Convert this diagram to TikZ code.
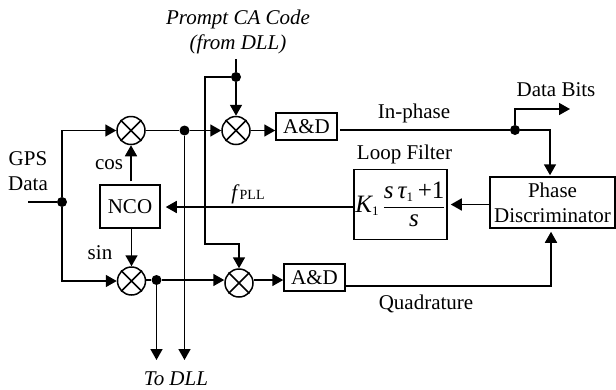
\documentclass[tikz,border=0pt]{standalone}
\usepackage{fontspec}
\setmainfont{Liberation Serif}
\usetikzlibrary{arrows.meta,calc}
\tikzstyle{wire}=[line width=1.7pt]
\tikzstyle{feed}=[wire,-{Triangle[length=11pt,width=12pt]}]
\tikzstyle{block}=[draw,line width=1.5pt,inner sep=0pt,align=center,font=\fontsize{21}{25}\selectfont]
\tikzstyle{mixer}=[draw,circle,line width=1.5pt,minimum size=28pt,inner sep=0pt]
\tikzstyle{joint}=[fill,circle,minimum size=10pt,inner sep=0pt]
\tikzstyle{caption}=[inner sep=0pt,align=center,font=\fontsize{21}{25}\selectfont]
\newcommand{\newmixer}[2]{
	\node[mixer] (#1) at (#2) {};
	\draw[line width=1.5pt] (#1.45) -- (#1.225) (#1.135) -- (#1.315);
}
\newcommand{\ital}[1]{\mbox{\fontsize{25}{25}\selectfont\itshape #1}}
\newcommand{\indx}{\mbox{\fontsize{13}{13}\selectfont 1}}
\begin{document}
\begin{tikzpicture}[x=1pt,y=-1pt]
	\useasboundingbox (0,0) rectangle (616,389);
	% mixers and blocks
	\newmixer{mixa}{131,130.5}
	\newmixer{mixb}{236,130.5}
	\newmixer{mixc}{131.5,281}
	\newmixer{mixd}{239,283}
	\node[block,minimum width=61pt,minimum height=27pt] (ada) at (306.5,126.5) {A\&D};
	\node[block,minimum width=61pt,minimum height=27pt] (adb) at (314.5,277.5) {A\&D};
	\node[block,minimum width=60pt,minimum height=43pt] (nco) at (130,206.5) {NCO};
	\node[block,minimum width=93pt,minimum height=70pt] (filter) at (400.5,204.5) {$\displaystyle \ital{K}_{\indx}\,\frac{\ital{s\,τ}_{\indx}\mbox{\fontsize{25}{25}\selectfont\,+1}}{\ital{s}}$};
	\node[block,minimum width=125pt,minimum height=51pt] (disc) at (552.5,202.5) {Phase\\Discriminator};
	% junctions and free ends
	\node[joint] (jgps) at (62,202) {};
	\node[joint] (jcode) at (236,77) {};
	\node[joint] (jdll) at (184.5,130.5) {};
	\node[joint] (jsin) at (156.5,280) {};
	\node[joint] (jbits) at (515,130) {};
	\coordinate (gpsin) at (28,202);
	\coordinate (codein) at (236,59);
	\coordinate (turn) at (205,244);
	\coordinate (bitsout) at (570,109);
	\coordinate (dllone) at (156.5,360);
	\coordinate (dlltwo) at (184.5,360);
	\coordinate (inturn) at (550,130);
	\coordinate (quadturn) at (551,286);
	\coordinate (fline) at (300,207);
	% connectors
	\draw[wire] (gpsin) -- (jgps);
	\draw[feed] (jgps) |- (mixa);
	\draw[feed] (jgps) |- (mixc);
	\draw[feed,shorten <=3pt] (nco.north -| mixa) -- (mixa);
	\draw[feed] (nco.south -| mixc) -- (mixc);
	\draw[wire] (mixa) -- (jdll);
	\draw[feed] (jdll) -- (mixb);
	\draw[feed] (jdll) -- (dlltwo);
	\draw[wire] (codein) -- (jcode);
	\draw[feed] (jcode) -- (mixb);
	\draw[feed] (jcode) -| (turn) -| (mixd);
	\draw[wire] (mixc.east |- jsin) -- (jsin);
	\draw[feed] (jsin) -- (jsin -| mixd.west);
	\draw[feed] (jsin) -- (dllone);
	\draw[feed] (mixb) -- (mixb -| ada.west);
	\draw[feed] (jsin -| mixd.east) -- (jsin -| adb.west);
	\draw[wire,shorten <=2pt] (ada.east |- jbits) -- (jbits);
	\draw[feed,shorten >=1pt] (jbits) -- (inturn) -- (inturn |- disc.north);
	\draw[feed] (jbits) |- (bitsout);
	\draw[feed,shorten >=3pt] (adb.east |- quadturn) -- (quadturn) -- (quadturn |- disc.south);
	\draw[feed,shorten >=3pt] (disc.west |- filter) -- (filter);
	\draw[feed,shorten >=5pt] (filter.west |- fline) -- (nco.east |- fline);
	% labels
	\node[caption,font=\fontsize{21}{25}\selectfont\itshape] (codelabel) at (238,32) {Prompt CA Code\\(from DLL)};
	\node[caption] (gpslabel) at (28,171) {GPS\\Data};
	\node[caption] (coslabel) at (109,165) {cos};
	\node[caption] (sinlabel) at (100,253) {sin};
	\node[caption,font=\fontsize{21}{25}\selectfont\itshape] (dlllabel) at (176,378.5) {To DLL};
	\node[caption] (flabel) at (248,194) {\textit{f}{\fontsize{14}{14}\selectfont PLL}};
	\node[caption] (phaselabel) at (414,113) {In-phase};
	\node[caption] (filterlabel) at (404.5,154) {Loop Filter};
	\node[caption] (bitslabel) at (556,90) {Data Bits};
	\node[caption] (quadlabel) at (426,304) {Quadrature};
\end{tikzpicture}
\end{document}
